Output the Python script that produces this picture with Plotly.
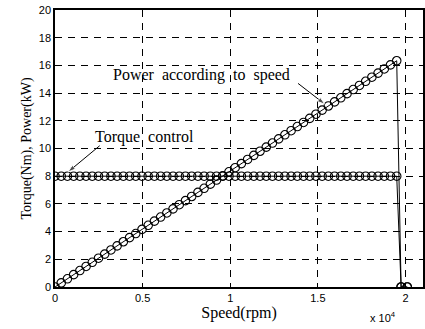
import numpy as np
import plotly.graph_objects as go

# data
speed_main = [round(i * 19500 / 55) for i in range(56)]  # 0 .. 19500 rpm
torque_vals = [8.0] * 56
power_vals = [round(8.0 * s * 2 * np.pi / 60 / 1000, 3) for s in speed_main]
speed_tail = [19750, 20100]
torque_tail = [0.0, 0.0]
power_tail = [0.0, 0.0]

speed = speed_main + speed_tail
torque = torque_vals + torque_tail
power = power_vals + power_tail

xtick_vals = [0, 5000, 10000, 15000, 20000]
xtick_text = ["0", "0.5", "1", "1.5", "2"]
ytick_vals = list(range(0, 21, 2))

# annotation arrows (tail -> head) in data units
power_arrow_x = [13870, 15400]
power_arrow_y = [14.7, 13.2]
torque_arrow_x = [2550, 740]
torque_arrow_y = [10.2, 8.3]

fig = go.Figure()
for y in (torque, power):
    fig.add_trace(go.Scatter(
        x=speed, y=y, mode="lines+markers",
        line=dict(color="black", width=1),
        marker=dict(symbol="circle-open", size=8.5, color="black", line=dict(width=1.1)),
        showlegend=False, hoverinfo="skip",
    ))

for ax_, ay_ in ((power_arrow_x, power_arrow_y), (torque_arrow_x, torque_arrow_y)):
    fig.add_trace(go.Scatter(
        x=ax_, y=ay_, mode="lines+markers",
        line=dict(color="black", width=1),
        marker=dict(symbol="arrow", size=[0, 8], color="black", angleref="previous"),
        showlegend=False, hoverinfo="skip",
    ))

serif = "Liberation Serif, Times New Roman, serif"
sans = "Liberation Sans, Arial, sans-serif"

fig.update_layout(
    width=425, height=329,
    margin=dict(l=55, r=0, t=10, b=42),
    paper_bgcolor="white", plot_bgcolor="white",
    xaxis=dict(
        range=[0, 21000], tickvals=xtick_vals, ticktext=xtick_text,
        showgrid=True, gridcolor="black", griddash="7px,6px", gridwidth=1,
        showline=True, linecolor="black", linewidth=1.5, mirror=True,
        ticks="inside", ticklen=4, tickcolor="black",
        tickfont=dict(family=sans, size=11, color="black"),
        zeroline=False,
        title=dict(text="Speed(rpm)", font=dict(family=serif, size=16, color="black"), standoff=3),
    ),
    yaxis=dict(
        range=[0, 20], tickvals=ytick_vals,
        showgrid=True, gridcolor="black", griddash="7px,6px", gridwidth=1,
        showline=True, linecolor="black", linewidth=1.5, mirror=True,
        ticks="inside", ticklen=4, tickcolor="black",
        tickfont=dict(family=sans, size=11, color="black"),
        zeroline=False,
        title=dict(text="Torque(Nm), Power(kW)", font=dict(family=serif, size=14, color="black"), standoff=4),
    ),
    annotations=[
        dict(x=8380, y=15.3, xref="x", yref="y", text="Power  according  to  speed",
             showarrow=False, font=dict(family=serif, size=16, color="black")),
        dict(x=5100, y=10.8, xref="x", yref="y", text="Torque  control",
             showarrow=False, font=dict(family=serif, size=16, color="black")),
        dict(x=0.89, y=-0.11, xref="paper", yref="paper", text="x 10<sup>4</sup>",
             xanchor="center", yanchor="middle",
             showarrow=False, font=dict(family=sans, size=11, color="black")),
    ],
)

fig.write_html("out.html")
